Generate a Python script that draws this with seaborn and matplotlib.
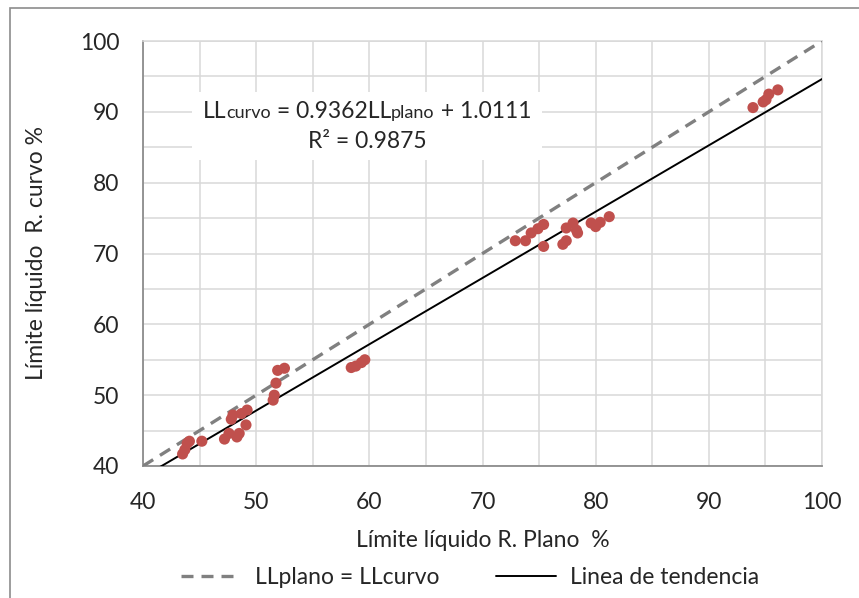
import matplotlib
matplotlib.use("Agg")
import matplotlib.pyplot as plt
import seaborn as sns
import pandas as pd
from matplotlib.patches import Rectangle
from matplotlib.lines import Line2D

# data
ll_plano = [43.5, 43.7, 43.9, 44.1, 45.2, 47.2, 47.6, 47.8, 47.95, 48.3, 48.5,
            48.7, 49.2, 49.1, 51.5, 51.6, 51.75, 51.9, 52.5, 58.4, 58.8, 59.3,
            59.6, 72.9, 73.8, 74.3, 74.9, 75.4, 75.4, 77.1, 77.4, 77.4, 78.0,
            78.3, 78.4, 79.6, 80.0, 80.4, 81.2, 93.9, 94.8, 95.05, 95.3, 96.1]
ll_curvo = [41.7, 42.3, 43.2, 43.5, 43.5, 43.8, 44.6, 46.6, 47.2, 44.1, 44.6,
            47.4, 47.9, 45.8, 49.3, 50.0, 51.7, 53.5, 53.8, 53.9, 54.1, 54.6,
            55.0, 71.8, 71.8, 72.9, 73.5, 74.1, 71.0, 71.3, 71.8, 73.6, 74.3,
            73.3, 72.9, 74.3, 73.8, 74.4, 75.2, 90.6, 91.4, 91.7, 92.5, 93.1]
line_x = [40, 100]
igualdad_y = [40, 100]
tendencia_y = [38.46, 94.63]   # 0.9362x + 1.0111 at the ends

sns.set_style("white")
plt.rcParams['font.family'] = ['Lato', 'DejaVu Sans']

fig = plt.figure(figsize=(8.59, 5.98), dpi=100)
ax = fig.add_axes([143/859, 1-466/598, (822-143)/859, (466-41)/598])

# chart border (Excel style)
fig.patches.append(Rectangle((10/859, -0.1), 1.2, 1.1 - 8/598, transform=fig.transFigure,
                             fill=False, edgecolor='#8c8c8c', linewidth=1.2))

df = pd.DataFrame({'plano': ll_plano, 'curvo': ll_curvo})
lines = pd.DataFrame({'x': line_x, 'igual': igualdad_y, 'tend': tendencia_y})

sns.lineplot(data=lines, x='x', y='igual', ax=ax, color='#808080', linewidth=2.4,
             zorder=3).lines[-1].set_dashes([3.6, 2.4])
sns.lineplot(data=lines, x='x', y='tend', ax=ax, color='black', linewidth=1.4, zorder=3)
sns.scatterplot(data=df, x='plano', y='curvo', ax=ax, color='#C0504D', s=64,
                edgecolor='none', zorder=4)

ax.set_xlim(40, 100)
ax.set_ylim(40, 100)
ax.set_xticks(range(40, 101, 10))
ax.set_yticks(range(40, 101, 10))
ax.set_xticks(range(45, 100, 10), minor=True)
ax.set_yticks(range(45, 100, 10), minor=True)
ax.grid(True, which='both', color='#d9d9d9', linewidth=1.1)
ax.set_axisbelow(True)
ax.tick_params(which='both', length=0, labelsize=16.5)
ax.tick_params(axis='x', pad=19)
ax.tick_params(axis='y', pad=17)
for sp in ax.spines.values():
    sp.set_color('#d9d9d9')
    sp.set_linewidth(1.1)
for sp in ('left', 'bottom'):
    ax.spines[sp].set_color('#8c8c8c')
    ax.spines[sp].set_linewidth(1.3)

ax.set_xlabel('Límite líquido R. Plano  %', fontsize=16.5, labelpad=12)
ax.set_ylabel('Límite líquido  R. curvo %', fontsize=16.5, labelpad=24)

# white box behind the equation
ax.add_patch(Rectangle((44.33, 83.2), 75.26 - 44.33, 92.8 - 83.2, facecolor='white',
                       edgecolor='none', zorder=1.5))

# equation with small "curvo"/"plano" pieces, placed one after another
pieces = [('LL', 16.5), ('curvo', 13), (' = 0.9362LL', 16.5), ('plano', 13), (' + 1.0111', 16.5)]
renderer = fig.canvas.get_renderer()
texts = []
for s, fs in pieces:
    t = fig.text(0, 0, s, fontsize=fs, ha='left', va='baseline', zorder=5)
    texts.append(t)
widths = [t.get_window_extent(renderer).width for t in texts]
total = sum(widths)
cx, base_y = 367, 598 - 118
x0 = cx - total / 2
for t, w in zip(texts, widths):
    t.set_position((x0 / 859, base_y / 598))
    x0 += w
fig.text(367 / 859, (598 - 148) / 598, 'R² = 0.9875', fontsize=16.5, ha='center',
         va='baseline')

handles = [Line2D([], [], color='#808080', linewidth=2.4, dashes=[3.6, 2.4]),
           Line2D([], [], color='black', linewidth=1.4)]
fig.legend(handles, ['LLplano = LLcurvo', 'Linea de tendencia'], loc='center',
           bbox_to_anchor=(470 / 859, 1 - 578 / 598), ncol=2, frameon=False,
           fontsize=16.5, handlelength=2.6, columnspacing=2.5, handletextpad=0.6)

fig.savefig('out.png', dpi=100)
